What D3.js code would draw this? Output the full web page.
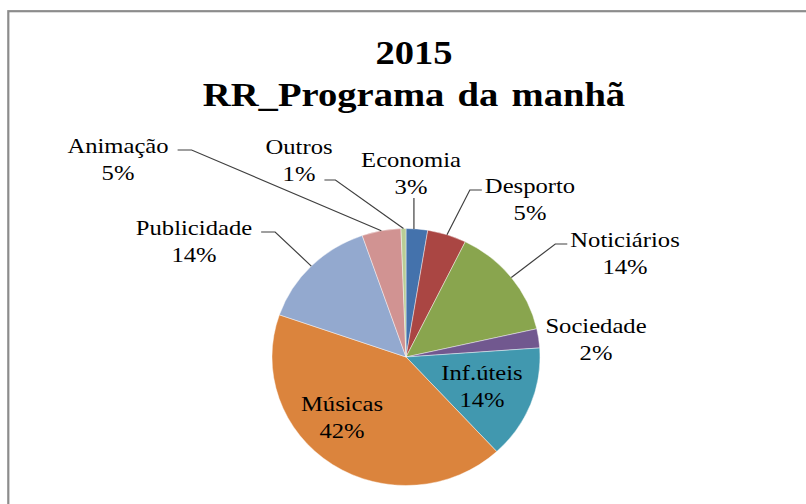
<!DOCTYPE html>
<html>
<head>
<meta charset="utf-8">
<script src="https://cdn.jsdelivr.net/npm/d3@7"></script>
<style>
  body { margin: 0; background: #fff; }
  svg { display: block; }
  text { font-family: "Liberation Serif", "Times New Roman", serif; fill: #000; }
</style>
</head>
<body>
<div class="canvas"></div>
<script>
// data
const categories = ['Economia', 'Desporto', 'Noticiários', 'Sociedade', 'Inf.úteis', 'Músicas', 'Publicidade', 'Animação', 'Outros'];
const values = [2.6, 4.7, 14.2, 2.4, 14.3, 42.2, 14.4, 4.7, 0.6];
const colors = ['#4472ac', '#aa4643', '#89a54e', '#71588f', '#4198af', '#db843d', '#93a9cf', '#d19392', '#b9cd96'];
const titleLines = ['2015', 'RR_Programa da manhã'];

const width = 806;
const height = 504;
const cx = 406, cy = 357;
const radius = 128.5;
const stretch = 1.043;   // the picture is a bit wider than tall
const textStretch = 1.12; // and the type is drawn wide

// where each label sits (name baseline, centred) and how its leader line attaches
const labelLayout = [
    {x: 411, y: 167, line: 'below'},
    {x: 530, y: 193, line: 'left'},
    {x: 625, y: 247, line: 'left'},
    {x: 596, y: 333, line: 'none'},
    {x: 482, y: 380, line: 'none'},
    {x: 342, y: 411, line: 'none'},
    {x: 194, y: 235, line: 'right'},
    {x: 118, y: 153, line: 'right'},
    {x: 299, y: 154, line: 'pctRight'}
];
const lineGap = 27;

const svg = d3.select('.canvas')
    .append('svg')
    .attr('width', width)
    .attr('height', height);

svg.append('rect')
    .attr('width', width)
    .attr('height', height)
    .attr('fill', '#fff');

// chart frame (right and bottom edges fall outside the window)
svg.append('rect')
    .attr('x', 8.3)
    .attr('y', 11.2)
    .attr('width', 900)
    .attr('height', 600)
    .attr('fill', 'none')
    .attr('stroke', '#8c8c8c')
    .attr('stroke-width', 2.2);

svg.selectAll('.title')
    .data(titleLines)
    .enter()
    .append('text')
    .attr('class', 'title')
    .attr('transform', (d, i) => `translate(414, ${64 + i * 42}) scale(1.17, 1)`)
    .attr('text-anchor', 'middle')
    .attr('font-size', 33)
    .attr('font-weight', 'bold')
    .style('word-spacing', '3px')
    .text(d => d);

const total = d3.sum(values);
const data = categories.map((c, i) => ({name: c, value: values[i], color: colors[i], pct: Math.round(values[i] / total * 100)}));

const pie = d3.pie()
    .sort(null)
    .value(d => d.value);

const arc = d3.arc()
    .innerRadius(0)
    .outerRadius(radius);

const arcs = pie(data);

const graph = svg.append('g')
    .attr('transform', `translate(${cx}, ${cy}) scale(${stretch}, 1)`);

graph.selectAll('path')
    .data(arcs)
    .enter()
    .append('path')
    .attr('d', arc)
    .attr('fill', d => d.data.color)
    .attr('stroke', '#fff')
    .attr('stroke-width', 0.6)
    .attr('stroke-opacity', 0.7);

// point on the rim at a slice's middle angle, in page coords
const rim = d => {
    const a = (d.startAngle + d.endAngle) / 2;
    return [cx + Math.sin(a) * radius * stretch, cy - Math.cos(a) * radius];
};

const labels = svg.append('g');
const leaders = svg.append('g');

arcs.forEach((d, i) => {
    const lay = labelLayout[i];
    const g = labels.append('g');
    const name = g.append('text')
        .attr('transform', `translate(${lay.x}, ${lay.y}) scale(${textStretch}, 1)`)
        .attr('text-anchor', 'middle')
        .attr('font-size', 22)
        .text(d.data.name);
    const pct = g.append('text')
        .attr('transform', `translate(${lay.x}, ${lay.y + lineGap}) scale(${textStretch}, 1)`)
        .attr('text-anchor', 'middle')
        .attr('font-size', 22)
        .text(d.data.pct + '%');

    const end = rim(d);
    const nw = name.node().getComputedTextLength() * textStretch;
    const pw = pct.node().getComputedTextLength() * textStretch;
    let pts = null;
    if (lay.line === 'below') {
        pts = [[end[0] - 3, lay.y + lineGap + 4], [end[0] - 3, end[1]]];
    } else if (lay.line === 'left') {
        const sx = lay.x - nw / 2 - 3;
        pts = [[sx, lay.y - 3], [sx - 12, lay.y - 3], end];
    } else if (lay.line === 'right') {
        const sx = lay.x + nw / 2 + 9;
        pts = [[sx, lay.y - 3], [sx + 14, lay.y - 3], end];
    } else if (lay.line === 'pctRight') {
        const sx = lay.x + pw / 2 + 9;
        pts = [[sx, lay.y + lineGap - 1], [sx + 11, lay.y + lineGap - 1], end];
    }
    if (pts) {
        leaders.append('path')
            .attr('d', d3.line()(pts))
            .attr('fill', 'none')
            .attr('stroke', '#404040')
            .attr('stroke-width', 1.2);
    }
});
</script>
</body>
</html>
